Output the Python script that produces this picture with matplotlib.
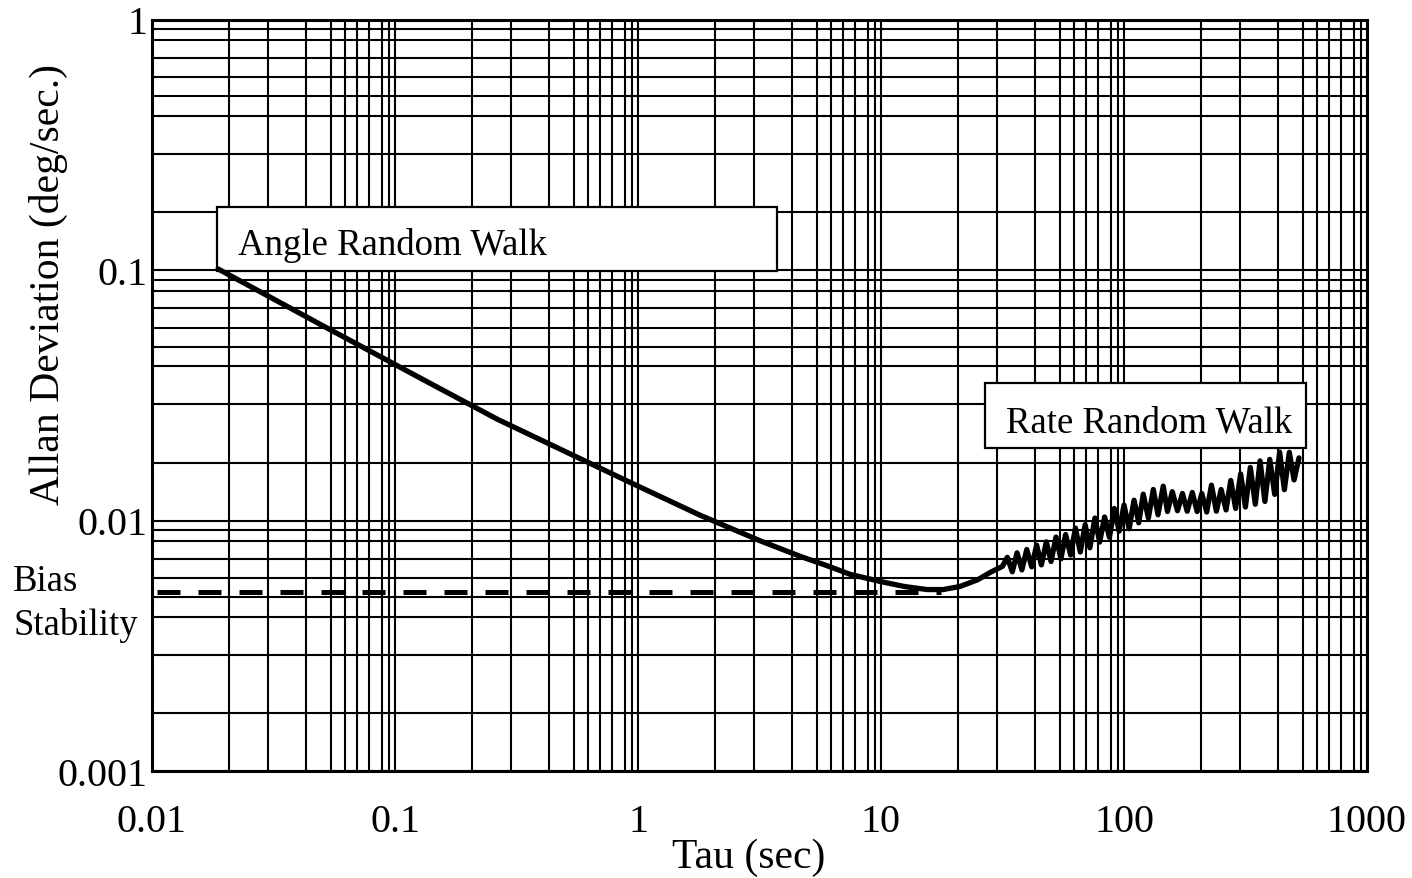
import numpy as np
import matplotlib
matplotlib.use("Agg")
import matplotlib.pyplot as plt
from matplotlib.patches import Rectangle
from matplotlib.ticker import FixedLocator, NullFormatter

plt.rcParams['font.family'] = ['Liberation Serif', 'DejaVu Serif']

# smooth part of the Allan deviation curve (tau in sec, sigma in deg/sec)
tau_smooth = [0.0187, 0.05, 0.13, 0.263, 0.927, 1.80, 3.18, 4.64, 6.0, 7.45,
              10.0, 12.5, 15.5, 18.0, 21.1, 25.0, 28.1]
sigma_smooth = [0.101, 0.0602, 0.0366, 0.0254, 0.0142, 0.0105, 0.0083, 0.0072, 0.0066, 0.0061,
                0.0057, 0.00545, 0.0053, 0.0053, 0.00545, 0.0058, 0.0062]

# noisy tail (rate random walk region)
tau_noisy = [31.6, 33.1, 34.7, 36.3, 38.0, 39.8, 41.7, 43.7, 45.7, 47.9,
             50.1, 52.5, 55.0, 57.5, 60.3, 63.1, 66.1, 69.2, 72.4, 75.9,
             79.4, 83.2, 87.1, 91.2, 95.5, 100, 105, 110, 115, 120,
             126, 132, 138, 145, 151, 158, 166, 174, 182, 191,
             200, 209, 219, 229, 240, 251, 263, 275, 288, 302,
             316, 331, 347, 363, 380, 398, 417, 437, 457, 479,
             501, 525]
sigma_noisy = [0.00656, 0.00713, 0.00624, 0.00743, 0.00635, 0.00766, 0.00653, 0.00798, 0.00665, 0.00822,
               0.00686, 0.00859, 0.00703, 0.00879, 0.00728, 0.00933, 0.00748, 0.00962, 0.00778, 0.01023,
               0.0082, 0.01033, 0.00857, 0.01117, 0.00906, 0.01153, 0.00927, 0.01205, 0.00979, 0.01274,
               0.01023, 0.0133, 0.01054, 0.01371, 0.01086, 0.01303, 0.01094, 0.01282, 0.01089, 0.01294,
               0.01086, 0.01282, 0.01081, 0.01384, 0.01089, 0.0133, 0.01102, 0.01445, 0.01117, 0.01535,
               0.01132, 0.01629, 0.01161, 0.0173, 0.01191, 0.01754, 0.01271, 0.01875, 0.01327, 0.01871,
               0.01452, 0.01778]

# bias stability level (dashed)
bias_tau = [0.0105, 17.6]
bias_level = [0.0052, 0.0052]

x_ticks = [0.01, 0.1, 1, 10, 100, 1000]
x_tick_labels = ["0.01", "0.1", "1", "10", "100", "1000"]
y_ticks = [0.001, 0.01, 0.1, 1]
y_tick_labels = ["0.001", "0.01", "0.1", "1"]

# grid subdivisions as drawn in the original (per decade)
x_sub = [2.08, 3.0, 4.3, 5.45, 6.2, 7.0, 7.85, 8.85, 9.45]
y_sub = [1.7, 2.91, 4.13, 4.94, 5.88, 7.05, 8.27, 9.15]

fig = plt.figure(figsize=(14.12, 8.79), dpi=100)
fig.patch.set_facecolor('white')
ax = fig.add_axes([152 / 1412, 1 - 772 / 879, 1215 / 1412, 751.5 / 879])
ax.set_xscale('log')
ax.set_yscale('log')
ax.set_xlim(0.01, 1000)
ax.set_ylim(0.001, 1)

ax.xaxis.set_major_locator(FixedLocator(x_ticks))
ax.yaxis.set_major_locator(FixedLocator(y_ticks))
ax.set_xticklabels(x_tick_labels)
ax.set_yticklabels(y_tick_labels)
ax.xaxis.set_minor_locator(FixedLocator([d * m for d in x_ticks[:-1] for m in x_sub]))
ax.yaxis.set_minor_locator(FixedLocator([d * m for d in y_ticks[:-1] for m in y_sub]))
ax.xaxis.set_minor_formatter(NullFormatter())
ax.yaxis.set_minor_formatter(NullFormatter())

ax.set_axisbelow(True)
ax.grid(which='both', color='black', linewidth=1.5)
ax.tick_params(which='both', length=0)
ax.tick_params(axis='x', labelsize=29, pad=23)
ax.tick_params(axis='y', labelsize=29, pad=3)
for sp in ax.spines.values():
    sp.set_linewidth(2.2)

# curve
ax.plot(tau_smooth + tau_noisy, sigma_smooth + sigma_noisy,
        color='black', linewidth=3.8, solid_joinstyle='round',
        solid_capstyle='round', zorder=5)

# bias stability dashed line
bias_line, = ax.plot(bias_tau, bias_level, color='black', linewidth=3.6, zorder=4)
bias_line.set_dashes([4.6, 3.6])

# annotation boxes
ax.add_patch(Rectangle((0.0535, 0.6653), 0.4609, 0.0852, transform=ax.transAxes,
                       facecolor='white', edgecolor='black', linewidth=1.6, zorder=3))
ax.text(0.0708, 0.688, "Angle Random Walk", transform=ax.transAxes,
        fontsize=26.5, ha='left', va='baseline', zorder=6)

ax.add_patch(Rectangle((0.6856, 0.4298), 0.2642, 0.0865, transform=ax.transAxes,
                       facecolor='white', edgecolor='black', linewidth=1.6, zorder=3))
ax.text(0.7029, 0.4524, "Rate Random Walk", transform=ax.transAxes,
        fontsize=26.5, ha='left', va='baseline', zorder=6)

fig.text(13 / 1412, 1 - 591 / 879, "Bias", fontsize=26.5, ha='left', va='baseline')
fig.text(13 / 1412, 1 - 635 / 879, "Stability", fontsize=26.5, ha='left', va='baseline')

# axis titles
fig.text(48 / 1412, 1 - 285 / 879, "Allan Deviation (deg/sec.)", fontsize=30,
         rotation=90, ha='center', va='center')
fig.text(749 / 1412, 1 - 868 / 879, "Tau (sec)", fontsize=30,
         ha='center', va='baseline')

fig.savefig("out.png", dpi=100, facecolor='white')
